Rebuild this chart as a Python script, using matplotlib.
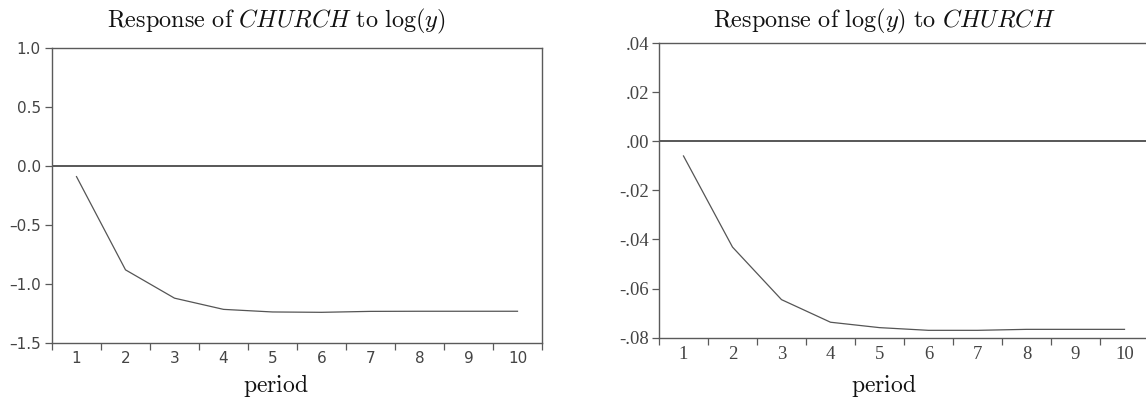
import matplotlib
matplotlib.use("Agg")
import matplotlib.pyplot as plt
from matplotlib.ticker import FixedLocator, NullFormatter, FuncFormatter

# impulse responses
periods = [1, 2, 3, 4, 5, 6, 7, 8, 9, 10]
church_to_y = [-0.09, -0.88, -1.12, -1.215, -1.237, -1.24, -1.232, -1.231, -1.231, -1.231]
y_to_church = [-0.006, -0.0431, -0.0645, -0.0737, -0.0759, -0.077, -0.077, -0.0766, -0.0766, -0.0766]

left_yticks = [-1.5, -1.0, -0.5, 0.0, 0.5, 1.0]
right_yticks = [-0.08, -0.06, -0.04, -0.02, 0.0, 0.02, 0.04]

titles = [r"$\mathrm{Response\ of\ }CHURCH\mathrm{\ to\ }\log(y)$",
          r"$\mathrm{Response\ of\ }\log(y)\mathrm{\ to\ }CHURCH$"]

plt.rcParams["mathtext.fontset"] = "cm"

W, H = 1146, 401
fig = plt.figure(figsize=(W / 100, H / 100), dpi=100)

spine_col = "#5a5a5a"
text_col = "#444444"


def px_axes(x0, x1, ytop, ybot):
    return fig.add_axes([x0 / W, (H - ybot) / H, (x1 - x0) / W, (ybot - ytop) / H])


def style(ax, font, size, pad_y):
    for s in ax.spines.values():
        s.set_color(spine_col)
        s.set_linewidth(1.0)
    ax.set_xlim(0.5, 10.5)
    # ticks sit between periods, labels at the periods
    ax.xaxis.set_major_locator(FixedLocator([p + 0.5 for p in [0] + periods]))
    ax.xaxis.set_major_formatter(NullFormatter())
    ax.xaxis.set_minor_locator(FixedLocator(periods))
    ax.xaxis.set_minor_formatter(FuncFormatter(lambda v, i: "%d" % round(v)))
    ax.tick_params(axis="x", which="major", direction="out", length=5, width=0.9,
                   color=spine_col)
    ax.tick_params(axis="x", which="minor", length=0, pad=6, labelsize=size,
                   labelcolor=text_col)
    ax.tick_params(axis="y", direction="out", length=5, width=0.9, color=spine_col,
                   pad=pad_y, labelsize=size, labelcolor=text_col)
    for lab in ax.get_xticklabels(minor=True) + ax.get_yticklabels():
        lab.set_fontfamily(font)


# left panel
ax1 = px_axes(52, 542, 48, 343)
ax1.plot(periods, church_to_y, color="#555555", lw=0.9)
ax1.axhline(0, color="#2a2a2a", lw=1.1)
ax1.set_ylim(-1.5, 1.0)
ax1.set_yticks(left_yticks)
ax1.yaxis.set_major_formatter(
    FuncFormatter(lambda v, i: ("\u2013" if v < -1e-9 else "") + "%.1f" % abs(v)))
style(ax1, "DejaVu Sans", 11, 3)

# right panel
ax2 = px_axes(659, 1149, 43, 337.7)
ax2.plot(periods, y_to_church, color="#555555", lw=0.9)
ax2.axhline(0, color="#2a2a2a", lw=1.1)
ax2.set_ylim(-0.08, 0.04)
ax2.set_yticks(right_yticks)
ax2.yaxis.set_major_formatter(
    FuncFormatter(lambda v, i: ("-" if v < -1e-9 else "") + ("%.2f" % abs(v))[1:]))
style(ax2, "Liberation Serif", 13.5, 2)

for cx, t in zip([276, 884], titles):
    fig.text(cx / W, (H - 27) / H, t, ha="center", va="baseline", fontsize=17.5,
             color="#111111")
    fig.text(cx / W, (H - 392) / H, r"$\mathrm{period}$", ha="center",
             va="baseline", fontsize=17, color="#111111")

fig.savefig("out.png", dpi=100)
